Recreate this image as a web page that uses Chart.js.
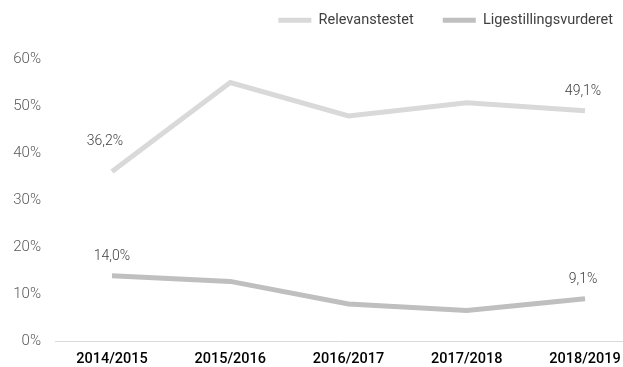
<!DOCTYPE html>
<html>
<head>
<meta charset="utf-8">
<script src="https://cdn.jsdelivr.net/npm/chart.js@4"></script>
<style>
  html, body { margin: 0; padding: 0; background: #fff; }
  #wrap { width: 623px; height: 367px; position: relative; }
</style>
</head>
<body>
<div id="wrap"><canvas id="c"></canvas></div>
<script>
const categories = ['2014/2015', '2015/2016', '2016/2017', '2017/2018', '2018/2019'];
const relevanstestet = [36.2, 55.1, 48.0, 50.8, 49.1];
const ligestillingsvurderet = [14.0, 12.8, 8.0, 6.6, 9.1];
const yTicks = [0, 10, 20, 30, 40, 50, 60];

const toPoints = arr => arr.map((v, i) => ({ x: i, y: v }));
const fmt = v => v.toFixed(1).replace('.', ',') + '%';

const legendFitPlugin = {
  id: 'legendFit',
  beforeInit(chart) {
    const origFit = chart.legend.fit;
    chart.legend.fit = function () {
      origFit.call(this);
      this.height += 22;
    };
  },
  afterLayout(chart) {
    if (chart.legend) { chart.legend.right += 19; }
  }
};

const endLabelsPlugin = {
  id: 'endLabels',
  afterDatasetsDraw(chart) {
    const ctx = chart.ctx;
    ctx.save();
    ctx.font = '300 14px Roboto, "Noto Sans", sans-serif';
    ctx.fillStyle = '#404040';
    ctx.textAlign = 'center';
    ctx.textBaseline = 'middle';
    chart.data.datasets.forEach((ds, di) => {
      const meta = chart.getDatasetMeta(di);
      const last = meta.data.length - 1;
      [0, last].forEach(idx => {
        const el = meta.data[idx];
        let dx = 0, dy = 19;
        if (di === 0 && idx === 0) { dx = -7; dy = 30; }
        if (idx === last) { dx = -2; }
        ctx.fillText(fmt(ds.data[idx].y), el.x + dx, el.y - dy);
      });
    });
    ctx.restore();
  }
};

new Chart(document.getElementById('c'), {
  type: 'line',
  data: {
    datasets: [
      {
        label: 'Relevanstestet',
        data: toPoints(relevanstestet),
        borderColor: '#d9d9d9',
        backgroundColor: '#d9d9d9',
        borderWidth: 5,
        borderCapStyle: 'butt',
        pointRadius: 0,
        pointHoverRadius: 0,
        tension: 0,
        fill: false
      },
      {
        label: 'Ligestillingsvurderet',
        data: toPoints(ligestillingsvurderet),
        borderColor: '#bfbfbf',
        backgroundColor: '#bfbfbf',
        borderWidth: 5,
        borderCapStyle: 'butt',
        pointRadius: 0,
        pointHoverRadius: 0,
        tension: 0,
        fill: false
      }
    ]
  },
  options: {
    responsive: true,
    maintainAspectRatio: false,
    animation: false,
    layout: { padding: { top: -16, right: 0, bottom: -10, left: 0 } },
    plugins: {
      tooltip: { enabled: false },
      legend: {
        position: 'top',
        align: 'end',
        labels: {
          boxWidth: 33,
          boxHeight: 5,
          padding: 29,
          color: '#404040',
          font: { family: 'Roboto, "Noto Sans", sans-serif', size: 14.5, weight: '400' },
          generateLabels(chart) {
            return Chart.defaults.plugins.legend.labels.generateLabels(chart).map(l => {
              l.lineWidth = 0;
              l.fillStyle = chart.data.datasets[l.datasetIndex].borderColor;
              l.strokeStyle = 'rgba(0,0,0,0)';
              return l;
            });
          }
        }
      }
    },
    scales: {
      x: {
        type: 'linear',
        min: -0.482,
        max: 4.321,
        grid: { display: false, drawTicks: false },
        border: { display: true, color: '#d9d9d9', width: 1 },
        afterFit(scale) { scale.paddingLeft = 0; scale.paddingRight = 0; },
        ticks: {
          stepSize: 1,
          includeBounds: false,
          autoSkip: false,
          maxRotation: 0,
          padding: 9,
          color: '#000000',
          font: { family: 'Roboto, "Noto Sans", sans-serif', size: 14.5, weight: '500' },
          callback: v => (Number.isInteger(v) && categories[v] !== undefined) ? categories[v] : ''
        }
      },
      y: {
        min: yTicks[0],
        max: yTicks[yTicks.length - 1],
        grid: { display: false, drawTicks: false },
        border: { display: false },
        afterFit(scale) { scale.width = 55; },
        afterBuildTicks(scale) { scale.ticks = yTicks.map(v => ({ value: v })); },
        ticks: {
          padding: 14,
          color: '#595959',
          font: { family: 'Roboto, "Noto Sans", sans-serif', size: 15, weight: '300' },
          callback: v => v + '%'
        }
      }
    }
  },
  plugins: [legendFitPlugin, endLabelsPlugin]
});
</script>
</body>
</html>
